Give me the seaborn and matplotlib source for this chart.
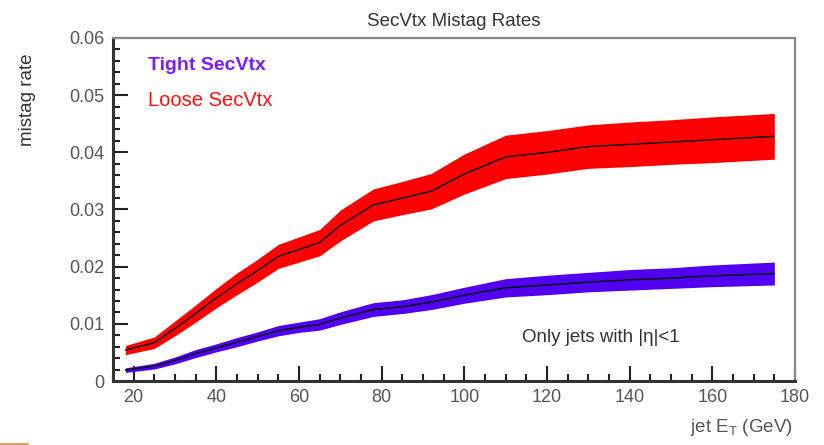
import matplotlib
matplotlib.use("Agg")
import matplotlib.pyplot as plt
import matplotlib.ticker as mticker
from matplotlib.lines import Line2D
import seaborn as sns
import pandas as pd

sns.set_theme(style="white")
plt.rcParams['font.family'] = ['Liberation Sans', 'DejaVu Sans']

# ---- data ----
jet_et = [18, 25, 30, 35, 40, 45, 50, 55, 60, 65, 70, 78, 85, 92, 100, 110, 120, 130, 140, 150, 160, 175]
tight_rate = [0.0019, 0.0026, 0.0036, 0.0048, 0.0058, 0.0068, 0.0078, 0.0088, 0.0094, 0.0099, 0.0110,
              0.0125, 0.0130, 0.0138, 0.0150, 0.0163, 0.0168, 0.0173, 0.0177, 0.0180, 0.0184, 0.0188]
tight_err = [0.0004, 0.0005, 0.0006, 0.0007, 0.0007, 0.0008, 0.0008, 0.0009, 0.0009, 0.0010, 0.0011,
             0.0012, 0.0012, 0.0013, 0.0014, 0.0016, 0.0017, 0.0017, 0.0018, 0.0018, 0.0019, 0.0020]
loose_rate = [0.0054, 0.0067, 0.0092, 0.0118, 0.0145, 0.0170, 0.0193, 0.0218, 0.0230, 0.0242, 0.0272,
              0.0308, 0.0320, 0.0332, 0.0362, 0.0392, 0.0400, 0.0410, 0.0414, 0.0418, 0.0422, 0.0428]
loose_err = [0.0008, 0.0010, 0.0013, 0.0015, 0.0017, 0.0019, 0.0020, 0.0021, 0.0022, 0.0023, 0.0027,
             0.0028, 0.0029, 0.0031, 0.0035, 0.0038, 0.0038, 0.0038, 0.0039, 0.0039, 0.0040, 0.0040]
series_names = ["Tight SecVtx", "Loose SecVtx"]
x_ticks = [20, 40, 60, 80, 100, 120, 140, 160, 180]
y_ticks = [0, 0.01, 0.02, 0.03, 0.04, 0.05, 0.06]

tight_color = "#5200f0"
loose_color = "#ff0000"

df = pd.concat([
    pd.DataFrame({"et": jet_et, "rate": tight_rate, "err": tight_err, "tag": series_names[0]}),
    pd.DataFrame({"et": jet_et, "rate": loose_rate, "err": loose_err, "tag": series_names[1]}),
])

fig = plt.figure(figsize=(8.24, 4.45), dpi=100)
ax = fig.add_axes([113/824, 1-381/445, (795-113)/824, (381-38)/445])

for name, col in zip(series_names, [tight_color, loose_color]):
    d = df[df.tag == name]
    ax.fill_between(d.et, d.rate - d.err, d.rate + d.err, color=col, lw=0, zorder=2)
sns.lineplot(data=df, x="et", y="rate", units="tag", estimator=None, color="black",
             lw=1.0, ax=ax, zorder=3, legend=False)

ax.set_xlim(15, 180)
ax.set_ylim(0, 0.06)
ax.set_xticks(x_ticks)
ax.set_yticks(y_ticks)
ax.xaxis.set_minor_locator(mticker.MultipleLocator(5))
ax.yaxis.set_minor_locator(mticker.MultipleLocator(0.002))
ax.yaxis.set_major_formatter(mticker.FuncFormatter(lambda v, p: "0" if abs(v) < 1e-9 else f"{v:.2f}"))
ax.tick_params(axis="both", which="major", direction="in", length=11, width=1.5,
               colors="#222222", labelcolor="#555555", labelsize=13, pad=6)
ax.tick_params(axis="both", which="minor", direction="in", length=5, width=1.5, colors="#222222")
ax.tick_params(axis="x", which="both", top=False, bottom=True)
ax.tick_params(axis="y", which="both", left=True, right=False)
ax.set_xlabel("")
ax.set_ylabel("")

for s in ["left", "bottom"]:
    ax.spines[s].set_color("#333333")
    ax.spines[s].set_linewidth(2.2)
for s in ["top", "right"]:
    ax.spines[s].set_color("#888888")
    ax.spines[s].set_linewidth(1.6)

fig.text(454/824, 1-21/445, "SecVtx Mistag Rates", ha="center", va="center",
         fontsize=13.5, color="#333333")
fig.text(28/824, 1-100/445, "mistag rate", rotation=90, ha="center", va="center",
         fontsize=13.5, color="#333333")
fig.text(793/824, 1-428/445, r"jet E$_\mathregular{T}$ (GeV)", ha="right", va="center",
         fontsize=13.5, color="#555555")
fig.text(601/824, 1-338/445, "Only jets with |\u03b7|<1", ha="center", va="center",
         fontsize=13.5, color="#333333")

fig.text(148/824, 1-65/445, series_names[0], fontsize=14, color="#7a1cff",
         fontweight="bold", va="center", ha="left")
fig.text(148/824, 1-100/445, series_names[1], fontsize=14.5, color="#ff1010",
         va="center", ha="left")

fig.add_artist(Line2D([0, 28/824], [1-444/445, 1-444/445], color="#d9a55a", lw=1.5))

fig.savefig("out.png", dpi=100, facecolor="white")
